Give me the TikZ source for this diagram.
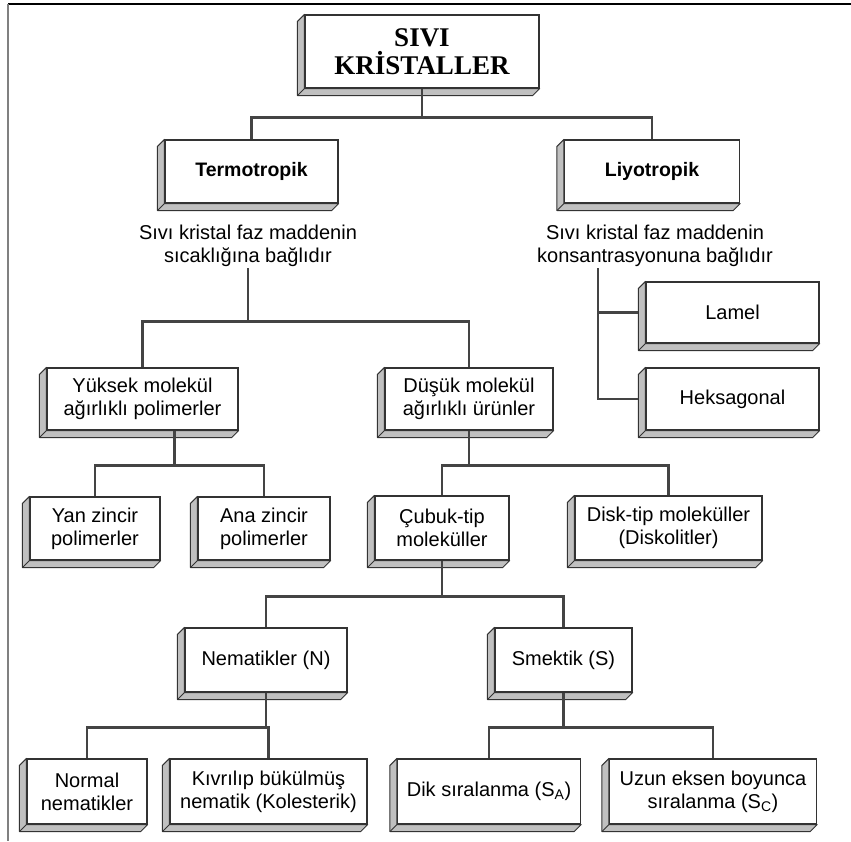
\documentclass[tikz,border=0pt]{standalone}
\usepackage{fontspec}
\setmainfont{Liberation Sans}
\newfontfamily\baslikfont{Liberation Serif}
\usetikzlibrary{positioning}

\definecolor{kenar}{HTML}{333333}
\definecolor{yan}{HTML}{C0C0C0}
\definecolor{hat}{HTML}{444444}

\begin{document}
\begin{tikzpicture}[x=1pt,y=-1pt,
  kutu/.style={draw=kenar,fill=white,line width=1.2pt,align=center,inner sep=1pt,minimum height=63pt,font=\fontsize{20}{23}\selectfont},
  metin/.style={align=center,inner sep=1pt,fill=white,font=\fontsize{20}{23}\selectfont},
  baglanti/.style={draw=hat,line width=2.3pt}
]
  \useasboundingbox (0,0) rectangle (851,841);
  % --- frame
  \draw[line width=2pt] (8,4) -- (851,4);
  \draw[gray,line width=2.5pt] (8,4) -- (8,841);

  % --- top
  \node[kutu,minimum width=234pt,minimum height=73pt,font=\baslikfont\bfseries\fontsize{27}{28}\selectfont] (sivi) at (422,51.5) {SIVI\\KRİSTALLER};
  \node[kutu,minimum width=173pt,font=\bfseries\fontsize{19.5}{23}\selectfont] (termo) at (251.5,171.5) {Termotropik};
  \node[kutu,minimum width=175pt,font=\bfseries\fontsize{19.5}{23}\selectfont] (liyo) at (652,171.5) {Liyotropik};
  \node[metin] (termometin) at (248,246) {Sıvı kristal faz maddenin\\sıcaklığına bağlıdır};
  \node[metin] (liyometin) at (655,246) {Sıvı kristal faz maddenin\\konsantrasyonuna bağlıdır};

  % --- second level
  \node[kutu,minimum width=191pt,minimum height=62pt] (yuksek) at (142.5,399) {Yüksek molekül\\ağırlıklı polimerler};
  \node[kutu,minimum width=168pt,minimum height=62pt] (dusuk) at (469,399) {Düşük molekül\\ağırlıklı ürünler};
  \node[kutu,minimum width=173pt,minimum height=61pt] (lamel) at (732.5,312.5) {Lamel};
  \node[kutu,minimum width=173pt,minimum height=62pt] (heks) at (732.5,399) {Heksagonal};

  % --- third level
  \node[kutu,minimum width=130pt] (yan) at (95,528.5) {Yan zincir\\polimerler};
  \node[kutu,minimum width=132pt] (ana) at (264,528.5) {Ana zincir\\polimerler};
  \node[kutu,minimum width=134pt,minimum height=64pt] (cubuk) at (442,528) {Çubuk-tip\\moleküller};
  \node[kutu,minimum width=187pt,minimum height=64pt] (disk) at (668.5,528) {Disk-tip moleküller\\(Diskolitler)};

  % --- fourth level
  \node[kutu,minimum width=162pt,minimum height=64pt] (nema) at (266,660) {Nematikler (N)};
  \node[kutu,minimum width=137pt,minimum height=64pt] (smek) at (563.5,660) {Smektik (S)};

  % --- bottom level
  \node[kutu,minimum width=120pt,minimum height=65pt] (normal) at (87,791.5) {Normal\\nematikler};
  \node[kutu,minimum width=197pt,minimum height=65pt] (kivr) at (268.5,791.5) {Kıvrılıp bükülmüş\\nematik (Kolesterik)};
  \node[kutu,minimum width=183pt,minimum height=65pt] (dik) at (489,791.5) {Dik sıralanma (S\textsubscript{A})};
  \node[kutu,minimum width=207pt,minimum height=65pt] (uzun) at (713,791.5) {Uzun eksen boyunca\\sıralanma (S\textsubscript{C})};

  % --- 3-D edges of the boxes
  \foreach \k in {sivi,termo,liyo,yuksek,dusuk,lamel,heks,yan,ana,cubuk,disk,nema,smek,normal,kivr,dik,uzun} {
    \filldraw[fill=yan,draw=kenar,line width=1pt,line join=round] (\k.north west) -- ([xshift=-7pt,yshift=-7pt]\k.north west) -- ([xshift=-7pt,yshift=-7pt]\k.south west) -- ([xshift=-7pt,yshift=-7pt]\k.south east) -- (\k.south east) -- (\k.south west) -- cycle;
    \draw[kenar,line width=1pt] (\k.south west) -- ++(-7,7);
  }

  % --- connectors
  \draw[baglanti] (termo.north) -- ++(0,-22) coordinate (b0) -| (liyo.north);
  \draw[baglanti] (sivi.south) -- (sivi.south |- b0);
  \draw[baglanti] (yuksek.north) -- ++(0,-46) coordinate (b1) -| (dusuk.north);
  \draw[baglanti] (termometin.south) -- (termometin.south |- b1);
  \draw[baglanti] (yan.north) -- ++(0,-31) coordinate (b2) -| (ana.north);
  \coordinate (yk) at ([xshift=32pt]yuksek.south);
  \draw[baglanti] (yk) -- (yk |- b2);
  \draw[baglanti] (cubuk.north) -- ++(0,-30) coordinate (b3) -| (disk.north);
  \draw[baglanti] (dusuk.south) -- (dusuk.south |- b3);
  \draw[baglanti] (nema.north) -- ++(0,-31) coordinate (b4) -| (smek.north);
  \draw[baglanti] (cubuk.south) -- (cubuk.south |- b4);
  \draw[baglanti] (normal.north) -- ++(0,-31) coordinate (b5) -| (kivr.north);
  \draw[baglanti] (nema.south) -- (nema.south |- b5);
  \draw[baglanti] (dik.north) -- ++(0,-31) coordinate (b6) -| (uzun.north);
  \draw[baglanti] (smek.south) -- (smek.south |- b6);
  \coordinate (kol) at ([xshift=-57pt]liyometin.south);
  \draw[baglanti] (kol) |- ([xshift=-7pt]heks.west);
  \draw[baglanti] (kol |- lamel.west) -- ([xshift=-7pt]lamel.west);
\end{tikzpicture}
\end{document}
